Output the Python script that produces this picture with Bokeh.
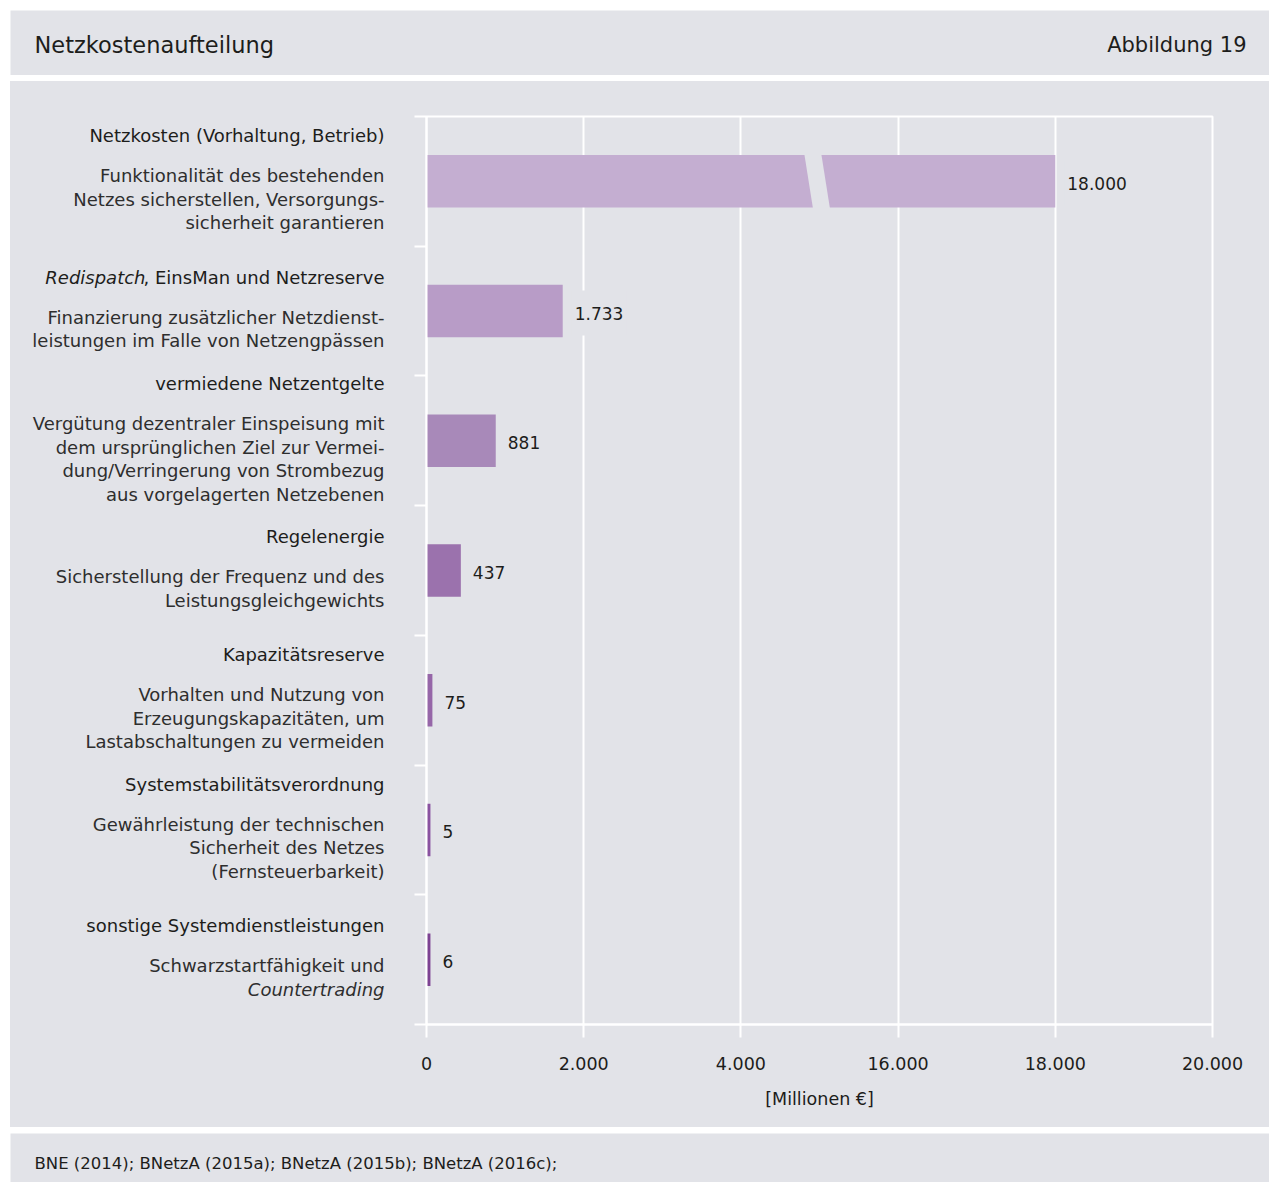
from bokeh.plotting import figure
from bokeh.layouts import column, row
from bokeh.models import Range1d, FixedTicker, ColumnDataSource
from bokeh.core.properties import value
from bokeh.embed import file_html
from bokeh.resources import INLINE

# ---------------- data ----------------
title_text = "Netzkostenaufteilung"
figure_no = "Abbildung 19"
source_text = "BNE (2014); BNetzA (2015a); BNetzA (2015b); BNetzA (2016c);"
axis_title = "[Millionen €]"

categories = [
    "Netzkosten (Vorhaltung, Betrieb)",
    "Redispatch, EinsMan und Netzreserve",
    "vermiedene Netzentgelte",
    "Regelenergie",
    "Kapazitätsreserve",
    "Systemstabilitätsverordnung",
    "sonstige Systemdienstleistungen",
]
descriptions = [
    ["Funktionalität des bestehenden", "Netzes sicherstellen, Versorgungs-", "sicherheit garantieren"],
    ["Finanzierung zusätzlicher Netzdienst-", "leistungen im Falle von Netzengpässen"],
    ["Vergütung dezentraler Einspeisung mit", "dem ursprünglichen Ziel zur Vermei-",
     "dung/Verringerung von Strombezug", "aus vorgelagerten Netzebenen"],
    ["Sicherstellung der Frequenz und des", "Leistungsgleichgewichts"],
    ["Vorhalten und Nutzung von", "Erzeugungskapazitäten, um", "Lastabschaltungen zu vermeiden"],
    ["Gewährleistung der technischen", "Sicherheit des Netzes", "(Fernsteuerbarkeit)"],
    ["Schwarzstartfähigkeit und", "Countertrading"],
]
italic_words = ["Redispatch", "Countertrading"]
values = [18000, 1733, 881, 437, 75, 5, 6]
bar_colors = ["#c4aed1", "#b89cc7", "#a889b9", "#9b72ad", "#9666a8", "#8a52a0", "#7d4292"]
tick_values = [0, 2000, 4000, 16000, 18000, 20000]
axis_break = (5000, 15000)   # value interval left out of the axis

# ---------------- style ----------------
FONT = "DejaVu Sans"
BG = "#e2e3e8"
TXT = "#1d1d1b"
TXT2 = "#2e2e2e"
FRAME_TOP, FRAME_BOTTOM = 35, 103
MAIN_H = 1046
FRAME_H = MAIN_H - FRAME_TOP - FRAME_BOTTOM
N = len(categories)
PPU = FRAME_H / N
LABEL_X = 374
ITALIC_REST_W = 239  # width of the upright text following an italic word


def fmt(v):
    return f"{v:,}".replace(",", ".")


def disp(v):
    lo, hi = axis_break
    return v if v <= lo else v - (hi - lo)


yr = Range1d(N, 0)


def plain_fig(w, h, xr, yrange, bg=BG, **kw):
    f = figure(width=w, height=h, x_range=xr, y_range=yrange,
               output_backend="svg", toolbar_location=None,
               x_axis_location=None, y_axis_location=None,
               background_fill_color=bg, border_fill_color=BG, outline_line_color=None, **kw)
    f.grid.visible = False
    return f


# ---------------- header ----------------
head = plain_fig(1259, 65, Range1d(0, 1259), Range1d(65, 0), min_border=0)
head.text(x=[24], y=[34], text=[title_text], text_font=value(FONT), text_font_size="22.5px",
          text_color=TXT, text_baseline="middle", text_align="left")
head.text(x=[1236], y=[34], text=[figure_no], text_font=value(FONT), text_font_size="21px",
          text_color=TXT, text_baseline="middle", text_align="right")

# ---------------- category labels ----------------
left = plain_fig(396, MAIN_H, Range1d(0, 396), yr, bg=None,
                 min_border_left=0, min_border_right=0,
                 min_border_top=FRAME_TOP, min_border_bottom=FRAME_BOTTOM)

rows = dict(x=[], y=[], text=[], style=[], align=[], color=[])


def add(x, y, t, style, align, color):
    rows["x"].append(x); rows["y"].append(y); rows["text"].append(t)
    rows["style"].append(style); rows["align"].append(align); rows["color"].append(color)


def add_line(y, t, color):
    for w in italic_words:
        if t == w:
            add(LABEL_X, y, t, "italic", "right", color)
            return
        if t.startswith(w):
            rest = t[len(w):]
            add(LABEL_X, y, rest, "normal", "right", color)
            add(LABEL_X - ITALIC_REST_W, y, w, "italic", "right", color)
            return
    add(LABEL_X, y, t, "normal", "right", color)


for i, (cat, desc) in enumerate(zip(categories, descriptions)):
    c = i + 0.5
    block = 40 + 23.5 * (len(desc) - 1)
    top_px = -block / 2 - 2
    add_line(c + top_px / PPU, cat, TXT)
    for k, d in enumerate(desc):
        add_line(c + (top_px + 40 + 23.5 * k) / PPU, d, TXT2)

left.text(x="x", y="y", text="text", text_font_style="style", text_align="align",
          text_color="color", text_baseline="middle", text_font=value(FONT),
          text_font_size="18px", source=ColumnDataSource(rows))

# ---------------- chart ----------------
p = figure(width=863, height=MAIN_H, x_range=Range1d(0, disp(tick_values[-1])), y_range=yr,
           output_backend="svg", toolbar_location=None,
           min_border_left=20, min_border_right=57, min_border_top=FRAME_TOP,
           min_border_bottom=FRAME_BOTTOM,
           background_fill_color=BG, border_fill_color=BG)

min_vis = 50
bars = ColumnDataSource(dict(
    y=[i + 0.5 for i in range(N)],
    right=[max(disp(v), min_vis) for v in values],
    color=bar_colors,
    label=[fmt(v) for v in values],
))
p.hbar(y="y", left=0, right="right", height=0.405, fill_color="color", line_color=None, source=bars)

# broken-axis gap through the long bar
bc = disp(axis_break[0]) - 30
half_gap, half_slant = 108, 55
for i, v in enumerate(values):
    if v > axis_break[1]:
        t, b = i + 0.5 - 0.21, i + 0.5 + 0.21
        p.patch([bc - half_slant - half_gap, bc - half_slant + half_gap,
                 bc + half_slant + half_gap, bc + half_slant - half_gap],
                [t, t, b, b], fill_color=BG, line_color=None)

p.text(x="right", y="y", text="label", x_offset=9, y_offset=2, text_baseline="middle",
       text_align="left", text_font=value(FONT), text_font_size="17px", text_color=TXT,
       background_fill_color=BG, padding=(3, 16), source=bars)

p.xaxis.ticker = FixedTicker(ticks=[disp(t) for t in tick_values])
p.xaxis.major_label_overrides = {disp(t): fmt(t) for t in tick_values}
p.xaxis.axis_label = axis_title
for ax in (p.xaxis, p.yaxis):
    ax.axis_line_color = "white"
    ax.axis_line_width = 2
    ax.major_tick_line_color = "white"
    ax.major_tick_line_width = 2
    ax.major_tick_in = 0
    ax.minor_tick_line_color = None
p.xaxis.major_tick_out = 13
p.xaxis.major_label_standoff = 19
p.xaxis.major_label_text_font = FONT
p.xaxis.major_label_text_font_size = "17.5px"
p.xaxis.major_label_text_color = TXT
p.xaxis.axis_label_text_font = FONT
p.xaxis.axis_label_text_font_size = "17.5px"
p.xaxis.axis_label_text_font_style = "normal"
p.xaxis.axis_label_text_color = TXT
p.xaxis.axis_label_standoff = 16

p.yaxis.ticker = FixedTicker(ticks=list(range(N + 1)))
p.yaxis.major_label_overrides = {i: "" for i in range(N + 1)}
p.yaxis.major_tick_out = 12
p.yaxis.major_label_standoff = 0

p.xgrid.grid_line_color = "white"
p.xgrid.grid_line_width = 2
p.ygrid.grid_line_color = None
p.outline_line_color = "white"
p.outline_line_width = 2

# ---------------- footer ----------------
foot = plain_fig(1259, 49, Range1d(0, 1259), Range1d(49, 0), min_border=0)
foot.text(x=[24], y=[30], text=[source_text], text_font=value(FONT), text_font_size="16.5px",
          text_color=TXT, text_baseline="middle", text_align="left")

main = row(left, p, spacing=0, styles={"background-color": BG})
layout = column(head, main, foot, spacing=6, margin=(10, 0, 0, 10))

with open("out.html", "w") as f:
    f.write(file_html(layout, INLINE))
